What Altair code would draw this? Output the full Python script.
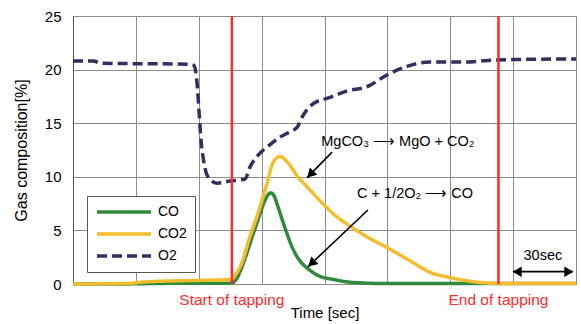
import math
import altair as alt
import pandas as pd

# ---- data (time in sec, gas composition in %) ----
co_t = [0, 20, 40, 60, 74, 75.8, 76.8, 78.7, 81, 83.5, 86, 88.3, 90, 91.6, 93, 94.5, 96, 97.8, 100, 102.1,
        104, 105.9, 108.5, 111.6, 116.9, 125, 130.7, 138, 146, 170, 200, 220, 240]
co_v = [0.0, 0.0, 0.05, 0.08, 0.08, 0.1, 0.2, 0.7, 1.8, 3.2, 4.7, 6.0, 7.0, 7.8, 8.3, 8.5, 8.2, 7.2, 5.9, 4.7,
        3.7, 2.9, 2.1, 1.5, 0.8, 0.4, 0.2, 0.1, 0.05, 0.05, 0.05, 0.05, 0.05]

co2_t = [0, 25, 35, 50, 73, 75.8, 78, 80.6, 84.4, 88.3, 92.6, 95.4, 98.8, 102.6, 107.3, 112, 120.2, 125,
         130.7, 140.3, 149.8, 162.2, 170.3, 179.9, 194.2, 202.8, 220, 240]
co2_v = [0.0, 0.05, 0.2, 0.3, 0.4, 0.5, 1.0, 2.0, 4.4, 6.6, 9.4, 11.3, 11.9, 11.3, 10.0, 9.0, 7.3, 6.4,
         5.6, 4.4, 3.4, 2.0, 1.1, 0.6, 0.15, 0.05, 0.05, 0.05]

o2_t = [0, 10, 13, 55, 57.7, 59.2, 60.1, 61.1, 62.5, 64.4, 68.7, 74.9, 82.1, 84.4, 87.8, 89.2, 94, 98.8,
        103.5, 106.9, 109.7, 114.5, 122.6, 130.7, 140.3, 149.8, 159.4, 170.3, 186, 202.3, 240]
o2_v = [20.8, 20.8, 20.6, 20.5, 20.4, 18.7, 16.2, 13.4, 11.3, 10.0, 9.4, 9.6, 9.8, 10.9, 11.9, 12.2, 13.0,
        13.7, 14.2, 14.6, 15.7, 16.8, 17.4, 18.0, 18.4, 19.5, 20.3, 20.7, 20.7, 20.9, 21.0]

series_names = ["CO", "CO2", "O2"]
series_colors = ["#2f8a3c", "#f5bd2e", "#2e3061"]

x_grid = [0, 30, 60, 90, 120, 150, 180, 210, 240]
y_ticks = [0, 5, 10, 15, 20, 25]

tap_t = [75.8, 203.0]
tap_labels = ["Start of tapping", "End of tapping"]

ann_text = ["MgCO\u2083 \u27f6 MgO + CO\u2082", "C + 1/2O\u2082 \u27f6 CO", "30sec"]
ann_t = [155.0, 163.2, 224.2]
ann_v = [13.2, 8.4, 2.6]

arrow_t = [123.6, 140.7]
arrow_v = [12.3, 6.9]
arrow_t2 = [111.6, 112.1]
arrow_v2 = [9.9, 1.6]

span_t = [210.0, 238.5]
span_v = 1.15

# ---- layout ----
W, H = 503, 268
PX_T = W / 240.0
PX_V = H / 25.0

rows = []
for name, ts, vs in [("CO", co_t, co_v), ("CO2", co2_t, co2_v), ("O2", o2_t, o2_v)]:
    for t, v in zip(ts, vs):
        rows.append({"series": name, "t": t, "v": v})
df = pd.DataFrame(rows)

xs = alt.Scale(domain=[0, 240], nice=False, zero=False)
ys = alt.Scale(domain=[0, 25], nice=False)
FONT = "Liberation Sans"

lines = alt.Chart(df).mark_line(interpolate="monotone", strokeWidth=3.5).encode(
    x=alt.X("t:Q", scale=xs,
            axis=alt.Axis(values=x_grid, labels=False, ticks=False, domain=False, grid=True,
                          title="Time [sec]", titleFont=FONT, titleFontSize=15,
                          titleFontWeight="normal", titlePadding=21, titleColor="black")),
    y=alt.Y("v:Q", scale=ys,
            axis=alt.Axis(values=y_ticks, ticks=False, grid=True, labelPadding=12,
                          labelFont=FONT, labelFontSize=15, labelColor="black",
                          domainColor="#555555",
                          title="Gas composition[%]", titleFont=FONT, titleFontSize=16,
                          titleFontWeight="normal", titleColor="black",
                          titleAngle=-90, titleX=-52, titleY=134,
                          titleAlign="center", titleBaseline="middle")),
    color=alt.Color("series:N",
                    scale=alt.Scale(domain=series_names, range=series_colors),
                    legend=alt.Legend(title=None, orient="none", legendX=14, legendY=180,
                                      symbolType="stroke", symbolSize=2916,
                                      symbolStrokeWidth=3.5, labelFont=FONT,
                                      labelFontSize=14, labelColor="black",
                                      fillColor="white", strokeColor="#555555",
                                      padding=8, rowPadding=6, labelOffset=5,
                                      clipHeight=16)),
    strokeDash=alt.StrokeDash("series:N",
                              scale=alt.Scale(domain=series_names,
                                              range=[[1, 0], [1, 0], [10, 5]]),
                              legend=None),
    order=alt.Order("series:N"),
)

tap_df = pd.DataFrame({"t": tap_t, "label": tap_labels})
tap_rules = alt.Chart(tap_df).mark_rule(color="#ff2a2a", strokeWidth=2.5).encode(
    x=alt.X("t:Q", scale=xs), y=alt.datum(0, scale=ys), y2=alt.datum(25))
tap_text = alt.Chart(tap_df).mark_text(color="#ff2a2a", font=FONT, fontSize=15.5,
                                       baseline="middle", dy=16).encode(
    x=alt.X("t:Q", scale=xs), y=alt.datum(0, scale=ys), text="label:N")

ann_df = pd.DataFrame({"t": ann_t, "v": ann_v, "text": ann_text})
ann = alt.Chart(ann_df).mark_text(font=FONT, fontSize=14.5, color="black",
                                  baseline="middle").encode(
    x=alt.X("t:Q", scale=xs), y=alt.Y("v:Q", scale=ys), text="text:N")

# arrows (shaft + head)
heads = []
for t1, v1, t2, v2 in zip(arrow_t, arrow_v, arrow_t2, arrow_v2):
    dx = (t2 - t1) * PX_T
    dy = -(v2 - v1) * PX_V
    L = math.hypot(dx, dy)
    ux, uy = dx / L, dy / L
    back = 5.0
    heads.append({"t": t2 - ux * back / PX_T, "v": v2 + uy * back / PX_V,
                  "angle": (math.degrees(math.atan2(ux, -uy)) + 360) % 360})
arrow_df = pd.DataFrame({"t": arrow_t, "v": arrow_v, "t2": arrow_t2, "v2": arrow_v2})
shafts = alt.Chart(arrow_df).mark_rule(color="black", strokeWidth=1.6).encode(
    x=alt.X("t:Q", scale=xs), y=alt.Y("v:Q", scale=ys), x2="t2:Q", y2="v2:Q")
head_marks = alt.Chart(pd.DataFrame(heads)).mark_point(
    shape="triangle-up", filled=True, color="black", size=110, opacity=1).encode(
    x=alt.X("t:Q", scale=xs), y=alt.Y("v:Q", scale=ys),
    angle=alt.Angle("angle:Q", scale=None))

span_df = pd.DataFrame({"t": [span_t[0]], "t2": [span_t[1]], "v": [span_v]})
span_rule = alt.Chart(span_df).mark_rule(color="black", strokeWidth=1.6).encode(
    x=alt.X("t:Q", scale=xs), x2="t2:Q", y=alt.Y("v:Q", scale=ys))
span_heads_df = pd.DataFrame({
    "t": [span_t[0] + 4 / PX_T, span_t[1] - 4 / PX_T],
    "v": [span_v, span_v],
    "shape": ["triangle-left", "triangle-right"]})
span_heads = alt.Chart(span_heads_df).mark_point(filled=True, color="black", size=110,
                                                 opacity=1).encode(
    x=alt.X("t:Q", scale=xs), y=alt.Y("v:Q", scale=ys),
    shape=alt.Shape("shape:N", scale=None, legend=None))

chart = alt.layer(
    lines, tap_rules, tap_text, ann, shafts, head_marks, span_rule, span_heads
).properties(
    width=W, height=H, autosize="none",
    padding={"left": 73, "top": 16, "right": 5, "bottom": 40},
    background="white",
).configure_view(
    stroke="#8c8c8c", strokeWidth=1
).configure_axis(
    gridColor="#8c8c8c", gridWidth=1, gridOpacity=1
)

chart.save("out.html", embed_options={"renderer": "svg", "actions": False})
